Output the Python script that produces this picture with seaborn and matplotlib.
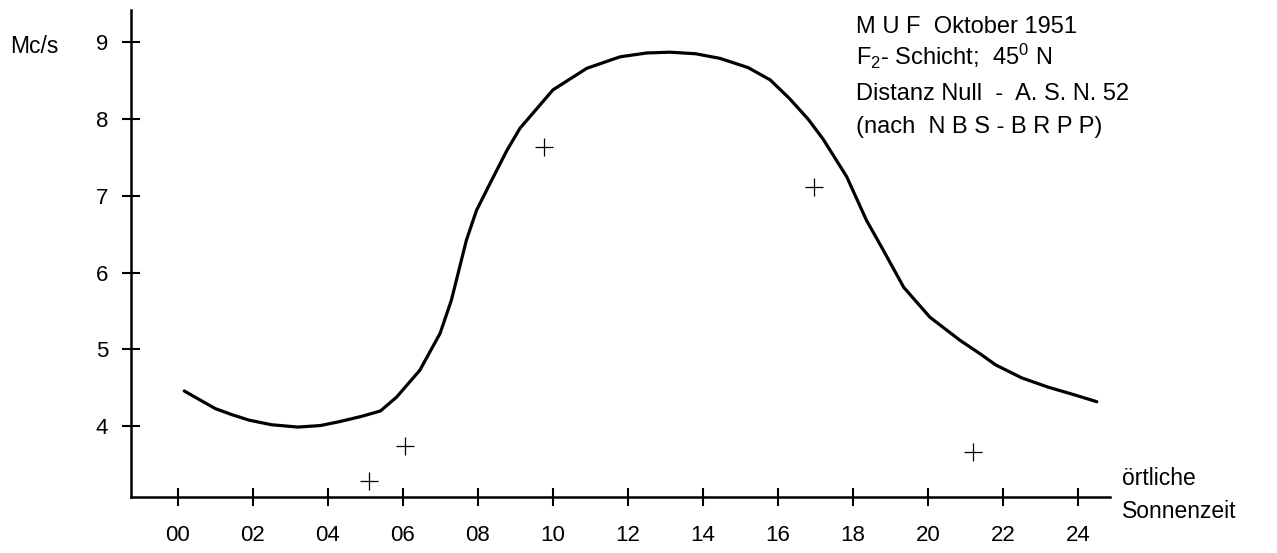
import numpy as np
import pandas as pd
import seaborn as sns
import matplotlib.pyplot as plt

# MUF curve (local solar time in hours, Mc/s)
curve_hours = [0.17, 0.6, 1.0, 1.45, 1.9, 2.5, 3.2, 3.8, 4.3, 4.9, 5.4,
               5.83, 6.45, 6.99, 7.29, 7.47, 7.69, 7.96, 8.32, 8.77, 9.12,
               10.0, 10.9, 11.79, 12.5, 13.12, 13.8, 14.45, 15.2, 15.79, 16.3,
               16.8, 17.2, 17.83, 18.36, 18.81, 19.35, 20.05, 20.85, 21.4, 21.8,
               22.5, 23.2, 23.9, 24.5]
curve_mcs = [4.46, 4.34, 4.23, 4.15, 4.08, 4.02, 3.99, 4.01, 4.06, 4.13, 4.20,
             4.38, 4.73, 5.21, 5.64, 5.99, 6.42, 6.81, 7.16, 7.59, 7.88,
             8.38, 8.66, 8.81, 8.86, 8.87, 8.85, 8.79, 8.67, 8.51, 8.27,
             8.00, 7.74, 7.25, 6.68, 6.29, 5.81, 5.42, 5.12, 4.94, 4.80,
             4.63, 4.51, 4.41, 4.32]

# measured points (crosses)
obs_hours = [5.1, 6.05, 9.75, 16.97, 21.2]
obs_mcs = [3.29, 3.75, 7.63, 7.11, 3.67]

x_ticks = list(range(0, 25, 2))
x_labels = [f"{h:02d}" for h in x_ticks]
y_ticks = [4, 5, 6, 7, 8, 9]

info_lines = ["M U F  Oktober 1951", "F$_2$- Schicht;  45$^0$ N",
              "Distanz Null  -  A. S. N. 52", "(nach  N B S - B R P P)"]

sns.set_theme(style="white")
plt.rcParams['font.family'] = ['Liberation Sans', 'DejaVu Sans']
plt.rcParams['mathtext.default'] = 'regular'
plt.rcParams['text.color'] = 'black'

fig = plt.figure(figsize=(12.77, 5.53), dpi=100)
ax = fig.add_axes([0.1026, 0.1013, 0.7666, 0.8807])

curve = pd.DataFrame({"t": curve_hours, "muf": curve_mcs})
obs = pd.DataFrame({"t": obs_hours, "muf": obs_mcs})

sns.lineplot(data=curve, x="t", y="muf", ax=ax, color="black", linewidth=2.3)
sns.scatterplot(data=obs, x="t", y="muf", ax=ax, marker="+", s=170,
                color="black", linewidth=0.9)

ax.set_xlim(-1.25, 24.85)
ax.set_ylim(3.08, 9.42)
ax.set_xticks(x_ticks)
ax.set_xticklabels(x_labels)
ax.set_yticks(y_ticks)
ax.set_xlabel("")
ax.set_ylabel("")

for s in ["top", "right"]:
    ax.spines[s].set_visible(False)
for s in ["left", "bottom"]:
    ax.spines[s].set_color("black")
    ax.spines[s].set_linewidth(1.8)

ax.tick_params(axis="both", direction="inout", length=13, width=1.5,
               colors="black", labelsize=16, bottom=True, left=True)
ax.tick_params(axis="x", pad=14)
ax.tick_params(axis="y", pad=10)

fig.text(10 / 1277, 0.904, "Mc/s", fontsize=16.5, va="baseline", ha="left")
for txt, yb in zip(info_lines, [0.940, 0.882, 0.819, 0.759]):
    fig.text(0.670, yb, txt, fontsize=17, va="baseline", ha="left")
fig.text(0.879, 0.123, "örtliche", fontsize=16.5, va="baseline", ha="left")
fig.text(0.879, 0.063, "Sonnenzeit", fontsize=16.5, va="baseline", ha="left")

fig.savefig("out.png", dpi=100)
